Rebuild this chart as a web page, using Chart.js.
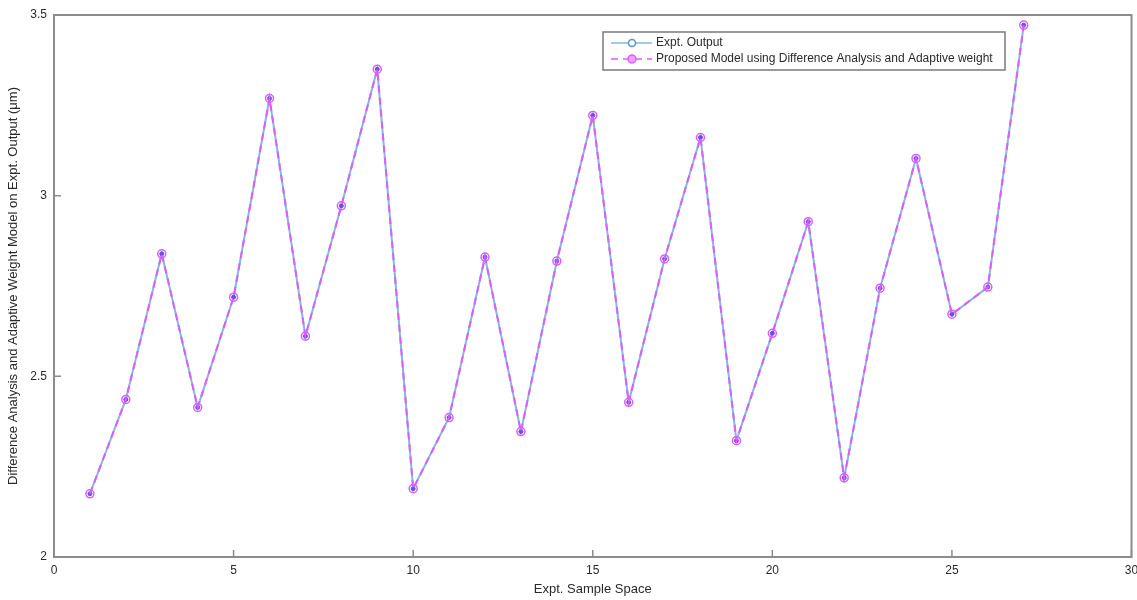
<!DOCTYPE html>
<html>
<head>
<meta charset="utf-8">
<script src="https://cdn.jsdelivr.net/npm/chart.js@4.4.1/dist/chart.umd.min.js"></script>
<style>
  html, body { margin: 0; padding: 0; background: #fff; }
  #wrap { width: 1137px; height: 600px; }
</style>
</head>
<body>
<div id="wrap"><canvas id="chart" width="1137" height="600"></canvas></div>
<script>
// sample index 1..27
var samples = [1, 2, 3, 4, 5, 6, 7, 8, 9, 10, 11, 12, 13, 14, 15, 16, 17, 18, 19, 20, 21, 22, 23, 24, 25, 26, 27];
var exptOutput = [2.175, 2.436, 2.839, 2.414, 2.719, 3.269, 2.611, 2.972, 3.350, 2.189, 2.386, 2.830, 2.347, 2.819,
                  3.222, 2.428, 2.825, 3.161, 2.322, 2.619, 2.928, 2.219, 2.744, 3.103, 2.672, 2.747, 3.472];
var proposedModel = [2.175, 2.436, 2.839, 2.414, 2.719, 3.269, 2.611, 2.972, 3.350, 2.189, 2.386, 2.830, 2.347, 2.819,
                     3.222, 2.428, 2.825, 3.161, 2.322, 2.619, 2.928, 2.219, 2.744, 3.103, 2.672, 2.747, 3.472];
var xTicks = [0, 5, 10, 15, 20, 25, 30];
var yTicks = [2, 2.5, 3, 3.5];

var seriesNames = ['Expt. Output', 'Proposed Model using Difference Analysis and Adaptive weight'];
var blue = '#86b8dc';
var magenta = '#dd5cff';
var frameColor = '#8c8c8c';
var textColor = '#2a2a2a';
var fontFamily = '"Liberation Sans", Arial, sans-serif';

function toPoints(ys) {
    return samples.map(function(x, i) { return { x: x, y: ys[i] }; });
}

// frame, inward ticks and the legend box, MATLAB style
var framePlugin = {
    id: 'frame',
    afterDatasetsDraw: function(chart) {
        var ctx = chart.ctx;
        var a = chart.chartArea;
        var xs = chart.scales.x, ys = chart.scales.y;
        ctx.save();
        ctx.strokeStyle = frameColor;
        ctx.lineWidth = 2;
        ctx.strokeRect(a.left, a.top, a.right - a.left, a.bottom - a.top);
        ctx.lineWidth = 1.5;
        ctx.beginPath();
        xTicks.forEach(function(v) {
            var px = xs.getPixelForValue(v);
            ctx.moveTo(px, a.bottom); ctx.lineTo(px, a.bottom - 7);
        });
        yTicks.forEach(function(v) {
            var py = ys.getPixelForValue(v);
            ctx.moveTo(a.left, py); ctx.lineTo(a.left + 7, py);
        });
        ctx.stroke();

        // legend
        var lx = 603, ly = 32, lw = 402, lh = 38;
        ctx.fillStyle = '#fff';
        ctx.fillRect(lx, ly, lw, lh);
        ctx.strokeStyle = '#7a7a7a';
        ctx.lineWidth = 1.5;
        ctx.strokeRect(lx, ly, lw, lh);

        var row1 = 43, row2 = 59;
        ctx.lineWidth = 1.5;
        ctx.strokeStyle = blue;
        ctx.beginPath(); ctx.moveTo(611, row1); ctx.lineTo(652, row1); ctx.stroke();
        ctx.beginPath(); ctx.arc(632, row1, 3.5, 0, Math.PI * 2); ctx.fillStyle = '#fff'; ctx.fill();
        ctx.strokeStyle = '#5a8fd0'; ctx.stroke();

        ctx.strokeStyle = magenta;
        ctx.setLineDash([7, 5]);
        ctx.beginPath(); ctx.moveTo(611, row2); ctx.lineTo(652, row2); ctx.stroke();
        ctx.setLineDash([]);
        ctx.beginPath(); ctx.arc(632, row2, 4, 0, Math.PI * 2); ctx.fillStyle = '#e9a0ff'; ctx.fill();
        ctx.strokeStyle = magenta; ctx.stroke();

        ctx.fillStyle = textColor;
        ctx.font = '12px ' + fontFamily;
        ctx.textBaseline = 'middle';
        ctx.textAlign = 'left';
        ctx.fillText(seriesNames[0], 656, row1);
        ctx.fillText(seriesNames[1], 656, row2);
        ctx.restore();
    }
};

new Chart(document.getElementById('chart').getContext('2d'), {
    type: 'line',
    data: {
        datasets: [{
            label: seriesNames[0],
            data: toPoints(exptOutput),
            order: 1,
            borderColor: blue,
            borderWidth: 2,
            pointRadius: 2,
            pointBorderWidth: 1,
            pointBorderColor: '#6a4fd8',
            pointBackgroundColor: '#6a4fd8',
            fill: false,
            tension: 0
        }, {
            label: seriesNames[1],
            data: toPoints(proposedModel),
            order: 0,
            borderColor: magenta,
            borderWidth: 2,
            borderDash: [7, 5],
            pointRadius: 4,
            pointBorderWidth: 1.5,
            pointBorderColor: magenta,
            pointBackgroundColor: 'rgba(255,255,255,0)',
            fill: false,
            tension: 0
        }]
    },
    options: {
        responsive: false,
        animation: false,
        layout: { padding: { left: 0, right: 0, top: 15, bottom: 0 } },
        plugins: { legend: { display: false }, tooltip: { enabled: false } },
        scales: {
            x: {
                type: 'linear',
                min: 0, max: 30,
                afterBuildTicks: function(s) { s.ticks = xTicks.map(function(v) { return { value: v }; }); },
                afterFit: function(s) { s.height = 43; s.paddingRight = 5; },
                grid: { display: false, drawTicks: false },
                border: { display: false },
                ticks: {
                    color: textColor, padding: 6,
                    font: { family: fontFamily, size: 12 },
                    maxRotation: 0,
                    callback: function(v) { return String(v); }
                },
                title: {
                    display: true, text: 'Expt. Sample Space', color: textColor,
                    font: { family: fontFamily, size: 13 },
                    padding: { top: 0, bottom: 3 }
                }
            },
            y: {
                min: 2, max: 3.5,
                afterBuildTicks: function(s) { s.ticks = yTicks.map(function(v) { return { value: v }; }); },
                afterFit: function(s) { s.width = 54; },
                grid: { display: false, drawTicks: false },
                border: { display: false },
                ticks: {
                    color: textColor, padding: 7,
                    font: { family: fontFamily, size: 12 },
                    callback: function(v) { return String(v); }
                },
                title: {
                    display: true,
                    text: 'Difference Analysis and Adaptive Weight Model on Expt. Output (\u03bcm)',
                    color: textColor,
                    font: { family: fontFamily, size: 13 },
                    padding: { top: 6, bottom: 0 }
                }
            }
        }
    },
    plugins: [framePlugin]
});
</script>
</body>
</html>
